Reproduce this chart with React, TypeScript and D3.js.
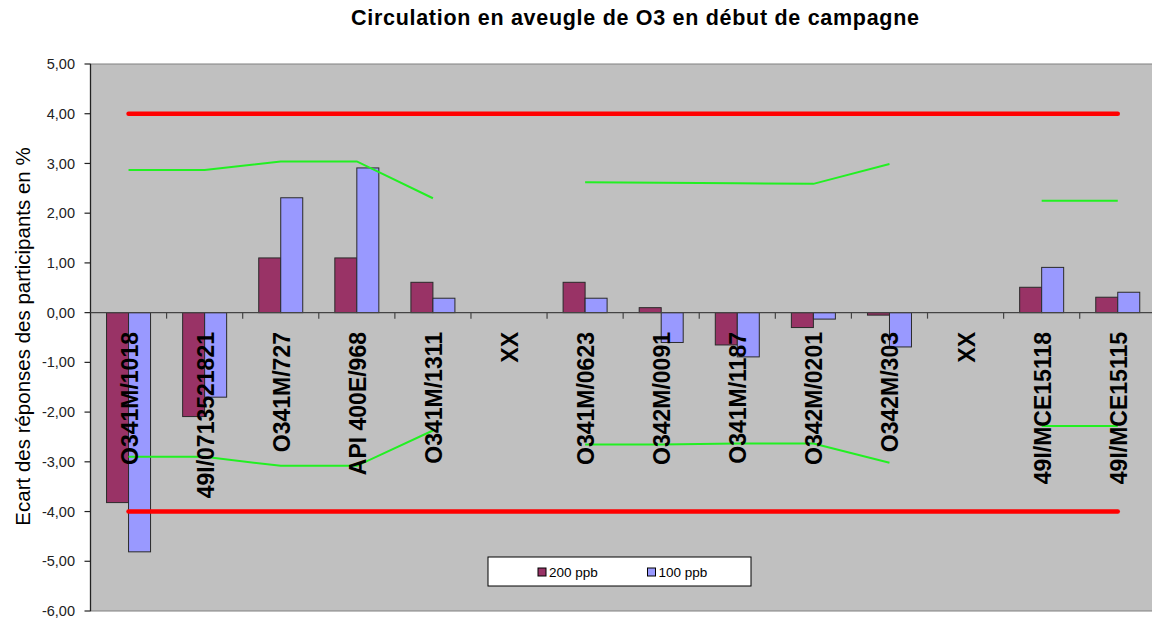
import React from "react";
import * as d3 from "d3";

const categories = [
  "O341M/1018",
  "49I/0713521821",
  "O341M/727",
  "API 400E/968",
  "O341M/1311",
  "XX",
  "O341M/0623",
  "O342M/0091",
  "O341M/1187",
  "O342M/0201",
  "O342M/303",
  "XX",
  "49I/MCE15118",
  "49I/MCE15115",
];
const seriesNames = ["200 ppb", "100 ppb"];
const values200: (number | null)[] = [-3.82, -2.09, 1.1, 1.1, 0.61, null, 0.61, 0.1, -0.65, -0.3, -0.05, null, 0.51, 0.31];
const values100: (number | null)[] = [-4.81, -1.7, 2.31, 2.91, 0.29, null, 0.29, -0.6, -0.89, -0.13, -0.69, null, 0.91, 0.41];
const upperGreen: (number | null)[] = [2.87, 2.87, 3.04, 3.04, 2.3, null, 2.62, 2.61, 2.6, 2.59, 2.99, null, 2.25, 2.25];
const lowerGreen: (number | null)[] = [-2.9, -2.9, -3.08, -3.08, -2.37, null, -2.65, -2.65, -2.63, -2.63, -3.02, null, -2.28, -2.28];
const upperLimit = 4;
const lowerLimit = -4;
const yTicks = [5, 4, 3, 2, 1, 0, -1, -2, -3, -4, -5, -6];

const W = 1152;
const H = 623;
const plotLeft = 90.5;
const plotRight = 1155.8;
const plotTop = 64;
const plotBottom = 611;

const colors = ["#993366", "#9999FF"];

export default function App() {
  const x = d3
    .scaleBand<number>()
    .domain(categories.map((_, i) => i))
    .range([plotLeft, plotRight])
    .padding(0);
  const y = d3.scaleLinear().domain([-6, 5]).range([plotBottom, plotTop]);
  const bw = 22;
  const cx = (i: number) => (x(i) as number) + x.bandwidth() / 2;

  const line = d3
    .line<number | null>()
    .defined((d) => d != null)
    .x((_, i) => cx(i))
    .y((d) => y(d as number));

  const fmt = (v: number) => v.toFixed(2).replace(".", ",");
  const series = [values200, values100];

  return (
    <svg
      width={W}
      height={H}
      style={{ position: "absolute", left: 0, top: 0, background: "#fff" }}
      fontFamily="'Liberation Sans', Arial, sans-serif"
    >
      <rect x={0} y={0} width={W} height={H} fill="#fff" />
      <text
        x={635}
        y={25}
        textAnchor="middle"
        fontSize={21.5}
        fontWeight="bold"
        fill="#000"
        textLength={568}
        lengthAdjust="spacing"
      >
        Circulation en aveugle de O3 en début de campagne
      </text>

      <rect
        x={plotLeft}
        y={plotTop}
        width={plotRight - plotLeft}
        height={plotBottom - plotTop}
        fill="#C0C0C0"
        stroke="#808080"
        strokeWidth={1}
      />

      {/* y axis */}
      <line x1={plotLeft} x2={plotLeft} y1={plotTop} y2={plotBottom} stroke="#222" strokeWidth={1.3} />
      {yTicks.map((t) => (
        <g key={t}>
          <line x1={plotLeft - 6} x2={plotLeft} y1={y(t)} y2={y(t)} stroke="#222" strokeWidth={1.2} />
          <text x={75} y={y(t)} dy="0.35em" textAnchor="end" fontSize={14.5} fill="#222">
            {fmt(t)}
          </text>
        </g>
      ))}
      <text
        transform={`translate(30, ${(plotTop + plotBottom) / 2 - 1}) rotate(-90)`}
        textAnchor="middle"
        fontSize={20.5}
        fill="#000"
      >
        Ecart des réponses des participants en %
      </text>

      {/* bars */}
      {series.map((vals, s) =>
        vals.map((v, i) =>
          v == null ? null : (
            <rect
              key={`${s}-${i}`}
              x={cx(i) - bw + s * bw}
              y={Math.min(y(v), y(0))}
              width={bw}
              height={Math.abs(y(v) - y(0))}
              fill={colors[s]}
              stroke="#2a2a2a"
              strokeWidth={1}
            />
          )
        )
      )}

      {/* x axis at zero */}
      <line x1={plotLeft} x2={plotRight} y1={y(0)} y2={y(0)} stroke="#444" strokeWidth={1.3} />
      {categories.map((_, i) =>
        i === 0 ? null : (
          <line key={i} x1={x(i) as number} x2={x(i) as number} y1={y(0)} y2={y(0) + 6} stroke="#444" strokeWidth={1.2} />
        )
      )}

      {/* limit lines */}
      {[upperLimit, lowerLimit].map((l) => (
        <line
          key={l}
          x1={cx(0)}
          x2={cx(categories.length - 1)}
          y1={y(l)}
          y2={y(l)}
          stroke="#FF0000"
          strokeWidth={4.5}
          strokeLinecap="round"
        />
      ))}

      {/* green lines */}
      {[upperGreen, lowerGreen].map((g, k) => (
        <path key={k} d={line(g) || ""} fill="none" stroke="#22F022" strokeWidth={2} />
      ))}

      {/* category labels */}
      {categories.map((c, i) => (
        <text
          key={i}
          transform={`translate(${cx(i) + 9}, 332) rotate(-90)`}
          textAnchor="end"
          fontSize={23}
          fontWeight="bold"
          fill="#000"
        >
          {c}
        </text>
      ))}

      {/* legend */}
      <rect x={488} y={557} width={263} height={29} fill="#fff" stroke="#000" strokeWidth={1} />
      {seriesNames.map((n, s) => (
        <g key={n} transform={`translate(${538 + s * 109.5}, 568)`}>
          <rect x={0} y={0} width={8} height={8} fill={colors[s]} stroke="#000" strokeWidth={1} />
          <text x={11} y={8.5} fontSize={13.5} fill="#000">
            {n}
          </text>
        </g>
      ))}
    </svg>
  );
}
